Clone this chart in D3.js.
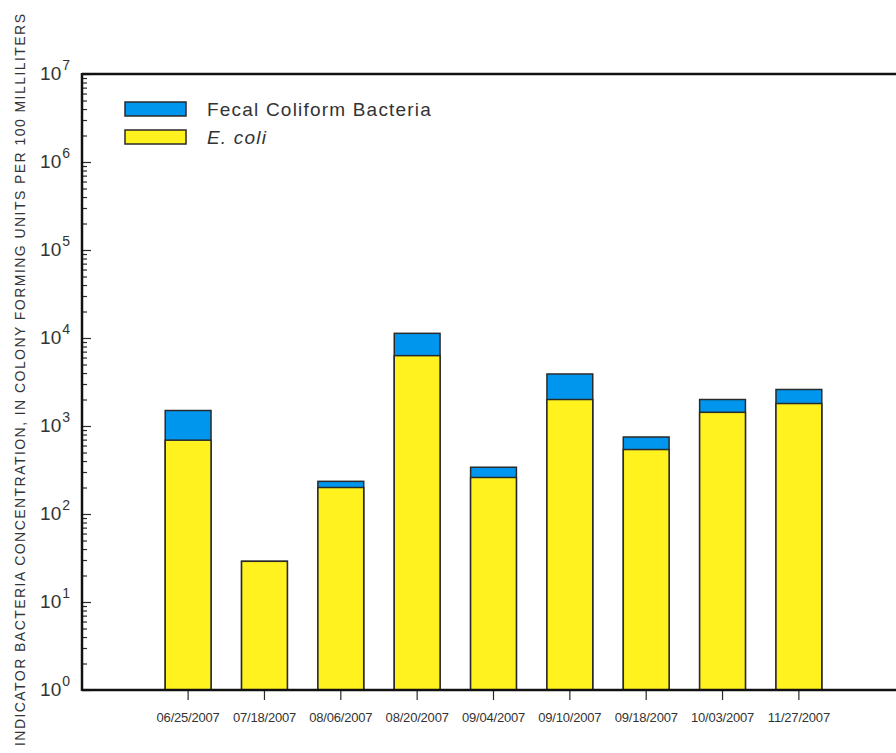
<!DOCTYPE html>
<html>
<head>
<meta charset="utf-8">
<script src="https://cdn.jsdelivr.net/npm/d3@7"></script>
<style>
  body { margin: 0; background: #fff; }
  svg { display: block; font-family: "Liberation Sans", Arial, sans-serif; }
</style>
</head>
<body>
<svg width="896" height="753"></svg>
<script>
let dates = ["06/25/2007", "07/18/2007", "08/06/2007", "08/20/2007", "09/04/2007",
             "09/10/2007", "09/18/2007", "10/03/2007", "11/27/2007"];
let fecal = [1500, 29, 235, 11300, 340, 3900, 750, 2000, 2600];
let ecoli = [690, 29, 200, 6300, 260, 2000, 540, 1430, 1800];
let decades = [0, 1, 2, 3, 4, 5, 6, 7];
let seriesNames = ["Fecal Coliform Bacteria", "E. coli"];

let blue = "#0096ee";
let yellow = "#fff21f";
let ink = "#2a2a2a";

let svg = d3.select("svg");

let plotLeft = 82, plotTop = 74, plotBottom = 690, plotRight = 905;

let x = d3.scaleBand()
  .domain(dates)
  .range([plotLeft, plotRight])
  .paddingInner(0.4)
  .paddingOuter(1.09);

let y = d3.scaleLog()
  .domain([1, 1e7])
  .range([plotBottom, plotTop]);

// bars: fecal behind, e. coli in front
let bars = svg.append("g");
dates.forEach((d, i) => {
  bars.append("rect")
    .attr("x", x(d))
    .attr("width", x.bandwidth())
    .attr("y", y(fecal[i]))
    .attr("height", y(1) - y(fecal[i]))
    .attr("fill", blue)
    .attr("stroke", ink)
    .attr("stroke-width", 1.5);
  bars.append("rect")
    .attr("x", x(d))
    .attr("width", x.bandwidth())
    .attr("y", y(ecoli[i]))
    .attr("height", y(1) - y(ecoli[i]))
    .attr("fill", yellow)
    .attr("stroke", ink)
    .attr("stroke-width", 1.5);
});

// minor ticks
let minors = y.ticks().filter(v => Math.abs(Math.log10(v) - Math.round(Math.log10(v))) > 1e-6);
svg.append("g")
  .attr("transform", "translate(" + plotLeft + ",0)")
  .call(d3.axisLeft(y).tickValues(minors).tickSize(-5).tickFormat(""))
  .call(g => g.select(".domain").remove())
  .call(g => g.selectAll("line").attr("stroke", ink).attr("stroke-width", 1.2));

// major ticks + labels
svg.append("g")
  .attr("transform", "translate(" + plotLeft + ",0)")
  .call(d3.axisLeft(y).tickValues(decades.map(e => Math.pow(10, e))).tickSize(-9).tickFormat(""))
  .call(g => g.select(".domain").remove())
  .call(g => g.selectAll("line").attr("stroke", ink).attr("stroke-width", 1.2));

decades.forEach(e => {
  let t = svg.append("text")
    .attr("x", 70)
    .attr("y", y(Math.pow(10, e)) + 6)
    .attr("text-anchor", "end")
    .attr("fill", "#333");
  t.append("tspan").attr("font-size", 19).text("10");
  t.append("tspan").attr("font-size", 14).attr("dx", 1).attr("dy", -10).text(e);
});

// x ticks and labels
svg.append("g")
  .attr("transform", "translate(0," + plotBottom + ")")
  .call(d3.axisBottom(x).tickSize(10).tickPadding(13))
  .call(g => g.select(".domain").remove())
  .call(g => g.selectAll("line").attr("stroke", ink).attr("stroke-width", 1.2))
  .call(g => g.selectAll("text")
    .attr("font-size", 13)
    .attr("font-family", "'Liberation Sans', Arial, sans-serif")
    .attr("fill", "#333")
    .attr("letter-spacing", -0.2));

// frame lines
svg.append("line")
  .attr("x1", plotLeft).attr("x2", plotRight).attr("y1", plotTop).attr("y2", plotTop)
  .attr("stroke", "#111").attr("stroke-width", 2.5);
svg.append("line")
  .attr("x1", plotLeft).attr("x2", plotRight).attr("y1", plotBottom).attr("y2", plotBottom)
  .attr("stroke", "#111").attr("stroke-width", 2.5);
svg.append("line")
  .attr("x1", plotLeft).attr("x2", plotLeft).attr("y1", plotTop - 1).attr("y2", plotBottom + 1)
  .attr("stroke", "#111").attr("stroke-width", 2.5);

// y axis title
svg.append("text")
  .attr("transform", "translate(25,380) rotate(-90)")
  .attr("text-anchor", "middle")
  .attr("font-size", 14)
  .attr("textLength", 732)
  .attr("lengthAdjust", "spacing")
  .attr("fill", "#333")
  .text("INDICATOR BACTERIA CONCENTRATION, IN COLONY FORMING UNITS PER 100 MILLILITERS");

// legend
let legend = svg.append("g").attr("transform", "translate(125,102)");
[blue, yellow].forEach((c, i) => {
  legend.append("rect")
    .attr("x", 0).attr("y", i * 28)
    .attr("width", 61).attr("height", 14)
    .attr("fill", c)
    .attr("stroke", ink)
    .attr("stroke-width", 1.5);
  legend.append("text")
    .attr("x", 82).attr("y", i * 28 + 14)
    .attr("font-size", 19)
    .attr("letter-spacing", 1.2)
    .attr("font-style", i == 1 ? "italic" : "normal")
    .attr("fill", "#333")
    .text(seriesNames[i]);
});
</script>
</body>
</html>
